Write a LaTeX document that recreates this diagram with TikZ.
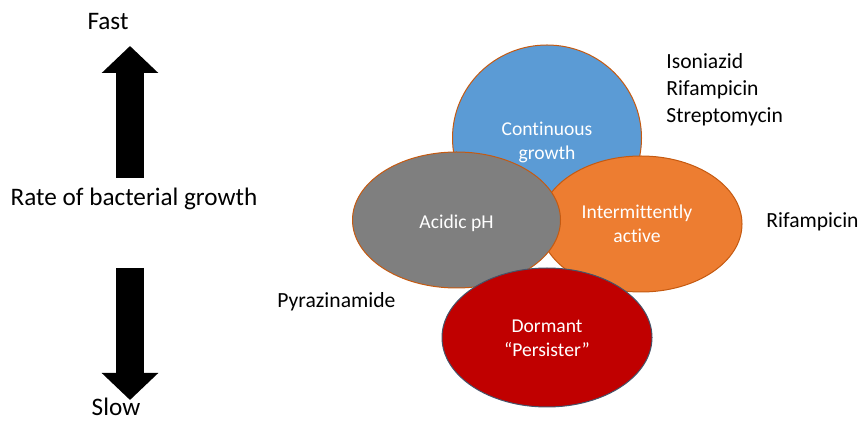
\documentclass[tikz,border=0pt]{standalone}
\usepackage{fontspec}
\setmainfont{Carlito}[Ligatures={TeX,NoCommon}]
\usetikzlibrary{shapes.geometric,arrows.meta}

\definecolor{cblue}{HTML}{5B9BD5}
\definecolor{corange}{HTML}{ED7D31}
\definecolor{cgray}{HTML}{7F7F7F}
\definecolor{cred}{HTML}{C00000}
\definecolor{rim}{HTML}{C55A11}
\definecolor{darkrim}{HTML}{44546A}

\begin{document}
\begin{tikzpicture}
	[
		x = .5pt, y = -.5pt,
		blob/.style = {shape=ellipse, draw=rim, line width=.5pt, inner sep=0pt},
		blobtext/.style = {inner sep=0pt, text=white, align=center, font=\fontsize{9.8}{12}\selectfont},
		side/.style = {inner sep=0pt, font=\fontsize{12.6}{14}\selectfont},
		drug/.style = {inner sep=0pt, anchor=west, align=left, font=\fontsize{10.8}{13.5}\selectfont},
		bigarrow/.style = {line width=14pt, -{Triangle[width=27.5pt, length=13.5pt]}}
	]
	
	\useasboundingbox (0, 0) rectangle (861, 421);
	
	% growth rate scale
	\node [side] (fast) at (108, 22) {Fast};
	\node [side] (rate) at (134, 199) {Rate of bacterial growth};
	\node [side] (slow) at (116, 407) {Slow};
	
	\coordinate (upfoot) at (130, 178);
	\coordinate (uptip) at (130, 46);
	\coordinate (downtop) at (130, 268);
	\coordinate (downtip) at (130, 400);
	
	\draw [bigarrow] (upfoot) -- (uptip);
	\draw [bigarrow] (downtop) -- (downtip);
	
	% populations, back to front
	\node [blob, fill=cblue, minimum width=94.5pt, minimum height=93pt] (cont) at (547, 138) {};
	\node [blob, fill=corange, minimum width=101pt, minimum height=68pt] (inter) at (641, 224) {};
	\node [blob, fill=cgray, minimum width=104pt, minimum height=68pt] (acid) at (456.5, 220) {};
	\node [blob, fill=cred, draw=darkrim, minimum width=105pt, minimum height=69.5pt] (dorm) at (547, 337.5) {};
	
	\node [blobtext] (conttext) at ([yshift=-2pt]cont.center) {Continuous\\growth};
	\node [blobtext] (intertext) at ([xshift=-2pt]inter.center) {Intermittently\\active};
	\node [blobtext] (acidtext) at ([yshift=-1.5pt]acid.center) {Acidic pH};
	\node [blobtext] (dormtext) at ([yshift=-.5pt]dorm.center) {Dormant\\``Persister''};
	
	% drugs
	\node [drug] (drugs) at (666, 90) {Isoniazid\\Rifampicin\\Streptomycin};
	\node [drug] (rif) at (766, 222) {Rifampicin};
	\node [drug] (pyr) at (277, 302) {Pyrazinamide};
\end{tikzpicture}
\end{document}
